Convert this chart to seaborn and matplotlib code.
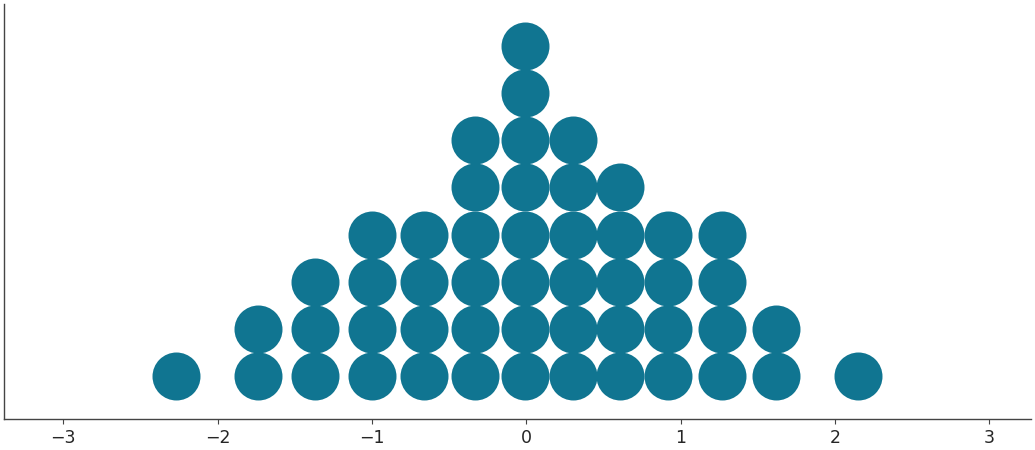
import numpy as np
import pandas as pd
import matplotlib
matplotlib.use("Agg")
import matplotlib.pyplot as plt
import seaborn as sns

# Bin centres and the number of stacked dots in each
bin_centers = [-2.27, -1.74, -1.37, -1.00, -0.66, -0.33, -0.01, 0.30, 0.61, 0.92, 1.27, 1.62, 2.15]
counts = [1, 2, 3, 4, 4, 6, 8, 6, 5, 4, 4, 2, 1]
xticks = [-3, -2, -1, 0, 1, 2, 3]
dot_color = "#107591"

xs, ys = [], []
for c, n in zip(bin_centers, counts):
    for k in range(n):
        xs.append(c)
        ys.append(k)
df = pd.DataFrame({"x": xs, "stack": ys})

sns.set_theme(style="ticks")
plt.rcParams['font.family'] = ['DejaVu Sans']

fig = plt.figure(figsize=(10.35, 4.5), dpi=100)
ax = fig.add_axes([0.0043, 0.069, 0.9918, 0.922])
sns.scatterplot(data=df, x="x", y="stack", s=1194, color=dot_color,
                linewidth=0, ax=ax, legend=False)
ax.set_xlim(-3.381, 3.270)
ax.set_ylim(-0.912, 7.89)
ax.set_xticks(xticks)
ax.set_yticks([])
ax.set_xlabel("")
ax.set_ylabel("")
ax.tick_params(axis="x", labelsize=12.5, length=3.5, width=0.8,
               color="#444444", labelcolor="#262626")
sns.despine(ax=ax)
for side in ("left", "bottom"):
    ax.spines[side].set_color("#444444")
    ax.spines[side].set_linewidth(1.0)
fig.savefig("out.png", dpi=100)
